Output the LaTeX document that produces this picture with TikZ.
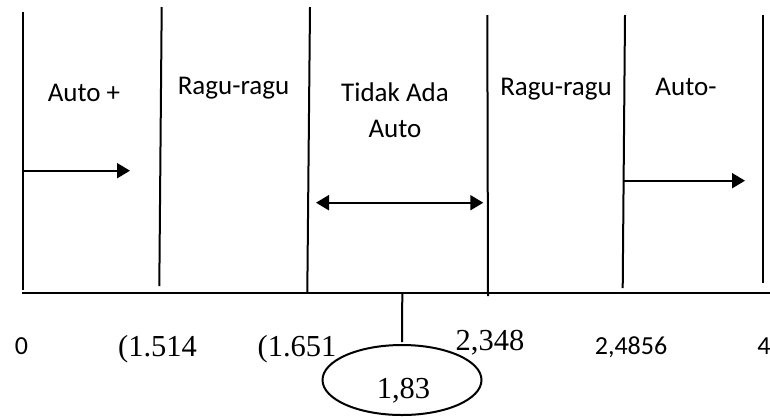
\documentclass[tikz,border=0pt]{standalone}
\usepackage{fontspec}
\setmainfont{Liberation Serif}
\newfontfamily\labelfont{Carlito}
\usetikzlibrary{arrows.meta,shapes.geometric}

\begin{document}
\begin{tikzpicture}[x=1pt,y=-1pt,
  divider/.style={line width=2pt},
  axisline/.style={line width=2.3pt},
  zonelabel/.style={font=\labelfont\fontsize{27}{35.3}\selectfont, anchor=base, inner sep=0pt, align=center},
  sanstick/.style={font=\labelfont\fontsize{26}{30}\selectfont, anchor=base, inner sep=0pt},
  seriftick/.style={font=\fontsize{30.5}{35}\selectfont, anchor=base, inner sep=0pt},
  flow/.style={line width=2pt, -{Triangle[length=13pt,width=15pt]}},
  bothflow/.style={line width=2pt, {Triangle[length=13pt,width=15pt]}-{Triangle[length=13pt,width=15pt]}},
  resultbox/.style={ellipse, draw, line width=2pt, minimum width=159pt, minimum height=70pt, inner sep=0pt},
  ]
\useasboundingbox (0,0) rectangle (770,416);

% zone dividers
\coordinate (d1t) at (22.7,12);   \coordinate (d1b) at (22.7,289.5);
\coordinate (d2t) at (161.7,7);   \coordinate (d2b) at (159.3,286);
\coordinate (d3t) at (310,7);     \coordinate (d3b) at (307.3,292);
\coordinate (d4t) at (487.3,15);  \coordinate (d4b) at (488,296);
\coordinate (d5t) at (625,15);    \coordinate (d5b) at (622.7,288);
\coordinate (d6t) at (762.7,15);  \coordinate (d6b) at (762.7,283);
\foreach \i in {1,...,6} \draw[divider] (d\i t) -- (d\i b);

% axis
\coordinate (axL) at (22,292.7);
\coordinate (axR) at (770,292.7);
\draw[axisline] (axL) -- (axR);

% zone labels (base of a two-line label is its last line)
\node[zonelabel] (zA) at (84,101.7) {Auto +};
\node[zonelabel] (zB) at (233.5,94) {Ragu-ragu};
\node[zonelabel] (zC) at (395,137) {Tidak Ada\\Auto};
\node[zonelabel] (zD) at (556,95) {Ragu-ragu};
\node[zonelabel] (zE) at (686,95) {Auto-};

% direction arrows
\coordinate (a1s) at (24,170.7);  \coordinate (a1e) at (130,170.7);
\coordinate (a2s) at (316,202.7); \coordinate (a2e) at (483.3,202.7);
\coordinate (a3s) at (623,180.7); \coordinate (a3e) at (745,180.7);
\draw[flow] (a1s) -- (a1e);
\draw[bothflow] (a2s) -- (a2e);
\draw[flow] (a3s) -- (a3e);

% axis values
\node[sanstick]  (v0) at (21.5,354) {0};
\node[seriftick] (v1) at (157.5,356) {(1.514};
\node[seriftick] (v2) at (297,356) {(1.651};
\node[seriftick] (v3) at (490,350) {2,348};
\node[sanstick]  (v4) at (631,354) {2,4856};
\node[sanstick]  (v5) at (764,354) {4};

% computed value
\coordinate (tick) at (402.3,292.7);
\node[resultbox] (res) at (402,380) {};
\node[seriftick] (resval) at (403.5,398.3) {1,83};
\draw[divider, shorten >=2pt] (tick) -- (res.north);
\end{tikzpicture}
\end{document}
